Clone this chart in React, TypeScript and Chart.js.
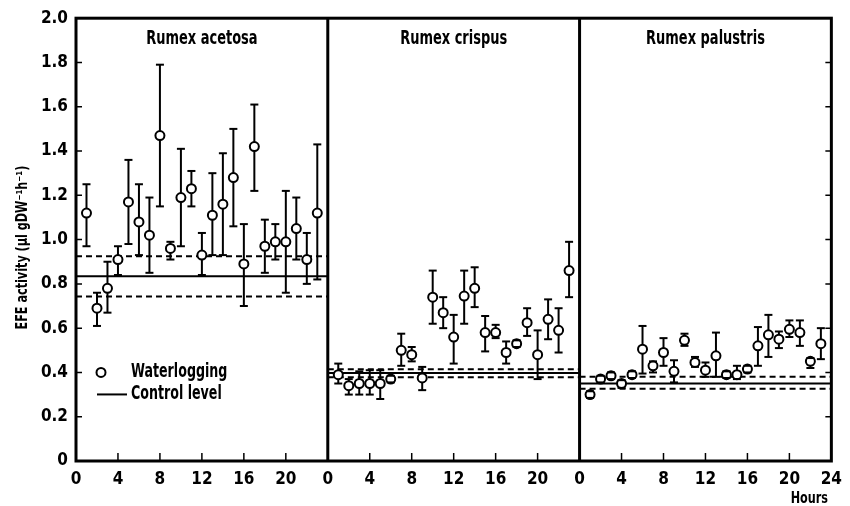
import React, { useEffect, useRef } from 'react';
import { Chart, registerables } from 'chart.js';

Chart.register(...registerables);

const panelTitles = ['Rumex acetosa', 'Rumex crispus', 'Rumex palustris'];
const hours = [1, 2, 3, 4, 5, 6, 7, 8, 9, 10, 11, 12, 13, 14, 15, 16, 17, 18, 19, 20, 21, 22, 23];

const acetosaMean = [1.12, 0.69, 0.78, 0.91, 1.17, 1.08, 1.02, 1.47, 0.96, 1.19, 1.23, 0.93, 1.11, 1.16, 1.28, 0.89, 1.42, 0.97, 0.99, 0.99, 1.05, 0.91, 1.12];
const acetosaHigh = [1.25, 0.76, 0.9, 0.97, 1.36, 1.25, 1.19, 1.79, 0.99, 1.41, 1.31, 1.03, 1.3, 1.39, 1.5, 1.07, 1.61, 1.09, 1.07, 1.22, 1.19, 1.03, 1.43];
const acetosaLow = [0.97, 0.61, 0.67, 0.84, 0.98, 0.93, 0.85, 1.15, 0.91, 0.97, 1.15, 0.84, 0.93, 0.93, 1.06, 0.7, 1.22, 0.85, 0.91, 0.76, 0.91, 0.8, 0.82];

const crispusMean = [0.39, 0.34, 0.35, 0.35, 0.35, 0.37, 0.5, 0.48, 0.375, 0.74, 0.67, 0.56, 0.745, 0.78, 0.58, 0.58, 0.49, 0.53, 0.625, 0.48, 0.64, 0.59, 0.86];
const crispusHigh = [0.44, 0.37, 0.405, 0.41, 0.41, 0.385, 0.575, 0.515, 0.425, 0.86, 0.74, 0.66, 0.86, 0.875, 0.655, 0.615, 0.54, 0.545, 0.69, 0.59, 0.73, 0.69, 0.99];
const crispusLow = [0.35, 0.3, 0.3, 0.3, 0.28, 0.355, 0.43, 0.45, 0.32, 0.62, 0.6, 0.44, 0.62, 0.695, 0.495, 0.555, 0.44, 0.515, 0.565, 0.37, 0.55, 0.49, 0.74];

const palustrisMean = [0.3, 0.37, 0.385, 0.35, 0.39, 0.505, 0.43, 0.49, 0.405, 0.545, 0.445, 0.41, 0.475, 0.39, 0.39, 0.415, 0.52, 0.57, 0.55, 0.595, 0.58, 0.45, 0.53];
const palustrisHigh = [0.315, 0.385, 0.4, 0.365, 0.405, 0.61, 0.45, 0.555, 0.455, 0.575, 0.47, 0.445, 0.58, 0.405, 0.43, 0.43, 0.605, 0.66, 0.585, 0.635, 0.635, 0.465, 0.6];
const palustrisLow = [0.285, 0.355, 0.37, 0.33, 0.375, 0.395, 0.4, 0.43, 0.355, 0.52, 0.425, 0.38, 0.38, 0.375, 0.37, 0.4, 0.43, 0.47, 0.51, 0.56, 0.52, 0.42, 0.46];

const controlMean = [0.835, 0.398, 0.35];
const controlUpper = [0.925, 0.414, 0.38];
const controlLower = [0.743, 0.378, 0.326];

const yTickValues = [0, 0.2, 0.4, 0.6, 0.8, 1.0, 1.2, 1.4, 1.6, 1.8, 2.0];
const xTickStep = 4;
const hoursPerPanel = 24;

const means = [acetosaMean, crispusMean, palustrisMean];
const highs = [acetosaHigh, crispusHigh, palustrisHigh];
const lows = [acetosaLow, crispusLow, palustrisLow];

const FONT = "'DejaVu Sans Condensed', 'Liberation Sans Narrow', 'DejaVu Sans', sans-serif";

function drawText(ctx: CanvasRenderingContext2D, text: string, x: number, y: number, size: number, align: CanvasTextAlign, sx = 0.78, rot = 0) {
  ctx.save();
  ctx.translate(x, y);
  if (rot) ctx.rotate(rot);
  ctx.scale(sx, 1);
  ctx.font = `bold ${size}px ${FONT}`;
  ctx.textAlign = align;
  ctx.textBaseline = 'middle';
  ctx.fillStyle = '#000';
  ctx.fillText(text, 0, 0);
  ctx.restore();
}

const CAP = 4;

const errorPlugin = {
  id: 'errorBars',
  beforeDatasetsDraw(chart: any) {
    const { ctx, scales } = chart;
    const xs = scales.x, ys = scales.y;
    ctx.save();
    ctx.strokeStyle = '#000';
    ctx.lineWidth = 2;
    for (let p = 0; p < 3; p++) {
      hours.forEach((h, i) => {
        const x = xs.getPixelForValue(p * hoursPerPanel + h);
        ctx.beginPath();
        ctx.moveTo(x, ys.getPixelForValue(highs[p][i]));
        ctx.lineTo(x, ys.getPixelForValue(lows[p][i]));
        ctx.stroke();
      });
    }
    ctx.restore();
  },
  afterDatasetsDraw(chart: any) {
    const { ctx, scales } = chart;
    const xs = scales.x, ys = scales.y;
    ctx.save();
    ctx.strokeStyle = '#000';
    ctx.lineWidth = 2;
    for (let p = 0; p < 3; p++) {
      hours.forEach((h, i) => {
        const x = xs.getPixelForValue(p * hoursPerPanel + h);
        [highs[p][i], lows[p][i]].forEach((v) => {
          const y = ys.getPixelForValue(v);
          ctx.beginPath();
          ctx.moveTo(x - CAP, y);
          ctx.lineTo(x + CAP, y);
          ctx.stroke();
        });
      });
    }
    ctx.restore();
  },
  afterDraw(chart: any) {
    const { ctx, scales, chartArea } = chart;
    const xs = scales.x, ys = scales.y;
    const { left, right, top, bottom } = chartArea;
    ctx.save();
    ctx.strokeStyle = '#000';
    ctx.lineWidth = 1.5;
    for (let p = 0; p < 3; p++) {
      for (let h = xTickStep; h < hoursPerPanel; h += xTickStep) {
        const x = xs.getPixelForValue(p * hoursPerPanel + h);
        ctx.beginPath();
        ctx.moveTo(x, bottom);
        ctx.lineTo(x, bottom - 8);
        ctx.stroke();
      }
    }
    yTickValues.forEach((v) => {
      const y = ys.getPixelForValue(v);
      ctx.beginPath();
      ctx.moveTo(left, y);
      ctx.lineTo(left + 6, y);
      ctx.moveTo(right, y);
      ctx.lineTo(right - 6, y);
      ctx.stroke();
    });
    ctx.lineWidth = 3;
    ctx.strokeRect(left, top, right - left, bottom - top);
    [1, 2].forEach((p) => {
      const x = xs.getPixelForValue(p * hoursPerPanel);
      ctx.beginPath();
      ctx.moveTo(x, top);
      ctx.lineTo(x, bottom);
      ctx.stroke();
    });
    panelTitles.forEach((t, p) => {
      const x = xs.getPixelForValue(p * hoursPerPanel + hoursPerPanel / 2);
      drawText(ctx, t, x, top + 21, 19, 'center', 0.76);
    });
    const lx = left + 25;
    const ly = ys.getPixelForValue(0.4);
    ctx.lineWidth = 2;
    ctx.fillStyle = '#fff';
    ctx.beginPath();
    ctx.arc(lx, ly, 4.5, 0, Math.PI * 2);
    ctx.fill();
    ctx.stroke();
    drawText(ctx, 'Waterlogging', lx + 30, ly, 19, 'left', 0.74);
    ctx.beginPath();
    ctx.moveTo(lx - 4, ly + 22);
    ctx.lineTo(lx + 26, ly + 22);
    ctx.stroke();
    drawText(ctx, 'Control level', lx + 30, ly + 22, 19, 'left', 0.74);
    drawText(ctx, 'EFE activity (µl gDW⁻¹h⁻¹)', 23, (top + bottom) / 2 + 8, 16, 'center', 0.78, -Math.PI / 2);
    drawText(ctx, 'Hours', right - 22, bottom + 38, 16, 'center');
    ctx.restore();
  },
};

export default function App() {
  const ref = useRef<HTMLCanvasElement | null>(null);
  useEffect(() => {
    if (!ref.current) return;
    const datasets: any[] = [];
    for (let p = 0; p < 3; p++) {
      datasets.push({
        type: 'scatter',
        label: 'Waterlogging ' + panelTitles[p],
        data: hours.map((h, i) => ({ x: p * hoursPerPanel + h, y: means[p][i] })),
        pointStyle: 'circle',
        pointRadius: 4.5,
        pointBackgroundColor: '#fff',
        pointBorderColor: '#000',
        pointBorderWidth: 2,
        order: 0,
      });
    }
    for (let p = 0; p < 3; p++) {
      const x0 = p * hoursPerPanel;
      const x1 = x0 + hoursPerPanel;
      [
        { v: controlMean[p], dash: [] as number[] },
        { v: controlUpper[p], dash: [6, 4] },
        { v: controlLower[p], dash: [6, 4] },
      ].forEach((c, k) => {
        datasets.push({
          type: 'line',
          label: 'Control ' + p + '-' + k,
          data: [{ x: x0, y: c.v }, { x: x1, y: c.v }],
          borderColor: '#000',
          borderWidth: 2,
          borderDash: c.dash,
          pointRadius: 0,
          fill: false,
          order: 1,
        });
      });
    }
    const chart = new Chart(ref.current, {
      type: 'scatter',
      data: { datasets },
      options: {
        animation: false,
        responsive: true,
        maintainAspectRatio: false,
        layout: { padding: { top: 17, right: 12, left: 0, bottom: 0 } },
        plugins: { legend: { display: false }, tooltip: { enabled: false } },
        scales: {
          x: {
            type: 'linear',
            min: 0,
            max: hoursPerPanel * 3,
            grid: { display: false, drawTicks: false },
            border: { display: false },
            ticks: {
              stepSize: xTickStep,
              padding: 8,
              color: '#000',
              font: { family: FONT, size: 17, weight: 'bold' },
              maxRotation: 0,
              autoSkip: false,
              callback: (v: any) => {
                const n = Number(v);
                if (n === hoursPerPanel * 3) return String(hoursPerPanel);
                return String(n % hoursPerPanel);
              },
            },
            afterFit: (s: any) => { s.height = 45; },
          },
          y: {
            type: 'linear',
            min: 0,
            max: 2,
            grid: { display: false, drawTicks: false },
            border: { display: false },
            afterBuildTicks: (s: any) => { s.ticks = yTickValues.map((v) => ({ value: v })); },
            ticks: {
              padding: 8,
              color: '#000',
              font: { family: FONT, size: 17, weight: 'bold' },
              callback: (v: any) => (Number(v) === 0 ? '0' : Number(v).toFixed(1)),
            },
            afterFit: (s: any) => { s.width = 76; },
          },
        },
      },
      plugins: [errorPlugin],
    } as any);
    return () => chart.destroy();
  }, []);
  return (
    <div style={{ position: 'fixed', left: 0, top: 0, width: 850, height: 506, background: '#fff' }}>
      <canvas ref={ref} />
    </div>
  );
}
